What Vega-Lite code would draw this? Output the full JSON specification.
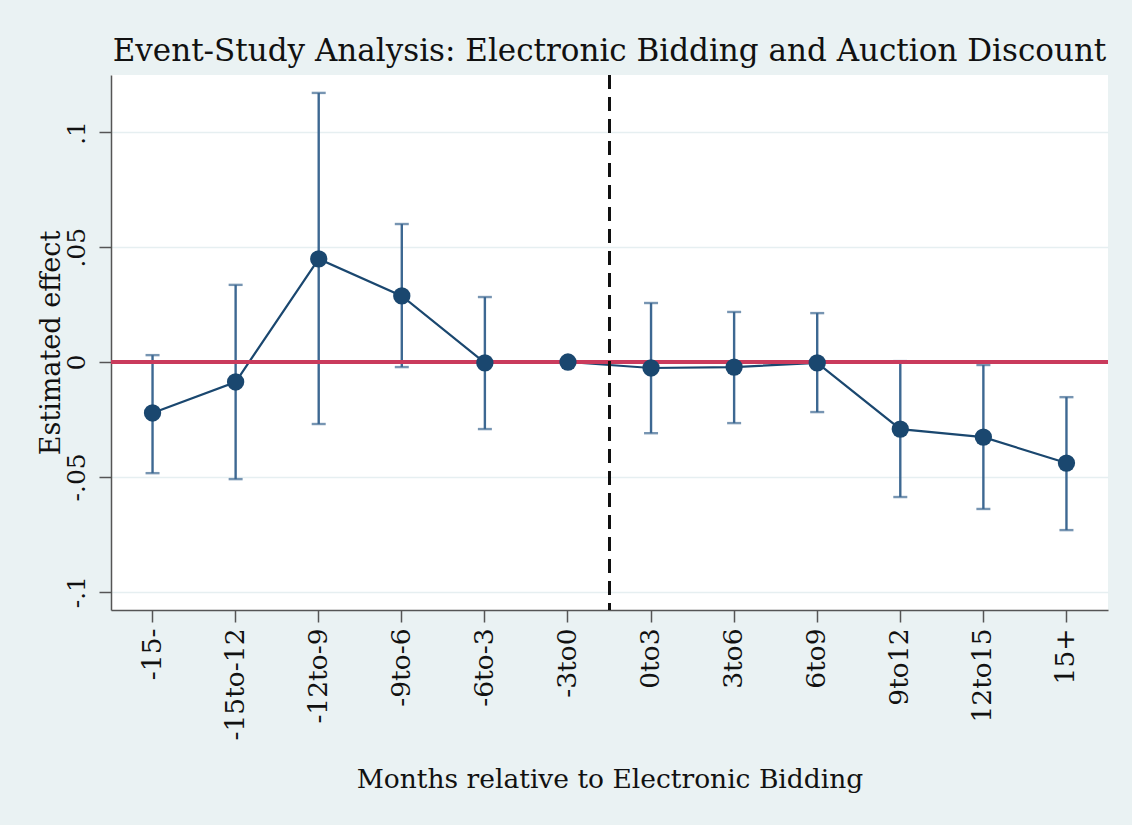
{
  "$schema": "https://vega.github.io/schema/vega-lite/v6.json",
  "width": 997,
  "height": 535,
  "autosize": "none",
  "padding": {"left": 111, "top": 75, "right": 24, "bottom": 215},
  "background": "#eaf2f3",
  "title": {
    "text": "Event-Study Analysis: Electronic Bidding and Auction Discount",
    "font": "DejaVu Serif",
    "fontSize": 31,
    "fontWeight": "normal",
    "color": "#111111",
    "anchor": "middle",
    "frame": "group",
    "baseline": "alphabetic",
    "offset": 15,
    "dy": 33
  },
  "data": {
    "values": [
      {"period": "-15-", "est": -0.0222, "lo": -0.0484, "hi": 0.003},
      {"period": "-15to-12", "est": -0.0087, "lo": -0.051, "hi": 0.0336},
      {"period": "-12to-9", "est": 0.0449, "lo": -0.027, "hi": 0.1172},
      {"period": "-9to-6", "est": 0.0288, "lo": -0.0022, "hi": 0.0601},
      {"period": "-6to-3", "est": -0.0004, "lo": -0.0292, "hi": 0.0283},
      {"period": "-3to0", "est": 0},
      {"period": "0to3", "est": -0.0026, "lo": -0.031, "hi": 0.0257},
      {"period": "3to6", "est": -0.0022, "lo": -0.0266, "hi": 0.0218},
      {"period": "6to9", "est": -0.0004, "lo": -0.0218, "hi": 0.0213},
      {"period": "9to12", "est": -0.0292, "lo": -0.0588, "hi": 0.0004},
      {"period": "12to15", "est": -0.0327, "lo": -0.064, "hi": -0.0013},
      {"period": "15+", "est": -0.044, "lo": -0.0732, "hi": -0.0153}
    ]
  },
  "layer": [
    {
      "mark": {"type": "rule", "color": "#3d6892", "strokeWidth": 2.4},
      "encoding": {
        "x": {"field": "period", "type": "nominal", "sort": null, "title": "Months relative to Electronic Bidding",
              "scale": {"type": "band", "paddingInner": 0, "paddingOuter": 0, "domain": ["-15-", "-15to-12", "-12to-9", "-9to-6", "-6to-3", "-3to0", "0to3", "3to6", "6to9", "9to12", "12to15", "15+"]}},
        "y": {"field": "lo", "type": "quantitative", "title": "Estimated effect", "scale": {"domain": [-0.108, 0.125], "nice": false, "zero": false}},
        "y2": {"field": "hi"}
      }
    },
    {
      "mark": {"type": "tick", "orient": "horizontal", "color": "#3d6892", "size": 14, "thickness": 2.4},
      "encoding": {
        "x": {"field": "period", "type": "nominal", "sort": null, "title": "Months relative to Electronic Bidding"},
        "y": {"field": "lo", "type": "quantitative", "title": "Estimated effect"}
      }
    },
    {
      "mark": {"type": "tick", "orient": "horizontal", "color": "#3d6892", "size": 14, "thickness": 2.4},
      "encoding": {
        "x": {"field": "period", "type": "nominal", "sort": null, "title": "Months relative to Electronic Bidding"},
        "y": {"field": "hi", "type": "quantitative", "title": "Estimated effect"}
      }
    },
    {
      "mark": {"type": "line", "color": "#1a476f", "strokeWidth": 2.2},
      "encoding": {
        "x": {"field": "period", "type": "nominal", "sort": null, "title": "Months relative to Electronic Bidding"},
        "y": {"field": "est", "type": "quantitative", "title": "Estimated effect"}
      }
    },
    {
      "mark": {"type": "rule", "color": "#c93b5c", "strokeWidth": 2.8},
      "encoding": {"y": {"datum": 0, "type": "quantitative"}}
    },
    {
      "mark": {"type": "rule", "color": "#111111", "strokeWidth": 2, "strokeDash": [14, 8]},
      "encoding": {"x": {"datum": "0to3", "type": "nominal", "bandPosition": 0}}
    },
    {
      "mark": {"type": "point", "filled": true, "opacity": 1, "color": "#1a476f", "size": 300},
      "encoding": {
        "x": {"field": "period", "type": "nominal", "sort": null, "title": "Months relative to Electronic Bidding",
              "axis": {"bandPosition": 0.5, "labelFont": "DejaVu Serif", "labelFontSize": 26.5}},
        "y": {"field": "est", "type": "quantitative", "title": "Estimated effect",
              "axis": {"values": [-0.1, -0.05, 0, 0.05, 0.1], "labelFont": "DejaVu Serif", "labelFontSize": 25,
                       "labelExpr": "datum.value == 0 ? '0' : replace(replace(format(datum.value, '.2~f'), '0.', '.'), '\u2212', '-')"}}
      }
    }
  ],
  "config": {
    "view": {"fill": "white", "stroke": null},
    "font": "DejaVu Serif",
    "axis": {
      "domainColor": "#555555", "domainWidth": 1.5,
      "tickColor": "#555555", "tickWidth": 1.5, "tickSize": 12,
      "labelColor": "#111111", "titleColor": "#111111",
      "labelFont": "DejaVu Serif", "titleFont": "DejaVu Serif",
      "titleFontWeight": "normal"
    },
    "axisX": {
      "grid": false, "labelAngle": -90, "labelAlign": "right", "labelBaseline": "middle",
      "labelFont": "DejaVu Serif", "labelFontSize": 26.5, "labelPadding": 6,
      "titleFontSize": 26.5, "titleBaseline": "alphabetic", "titleY": 177, "titleAnchor": "middle"
    },
    "axisY": {
      "grid": true, "gridColor": "#e6eff1", "gridWidth": 1.5,
      "labelAngle": -90, "labelAlign": "center", "labelBaseline": "bottom",
      "labelFont": "DejaVu Serif", "labelFontSize": 25, "labelPadding": 10,
      "titleFontSize": 27, "titleBaseline": "alphabetic", "titleX": -52, "titleAngle": -90, "titleAnchor": "middle"
    }
  }
}
